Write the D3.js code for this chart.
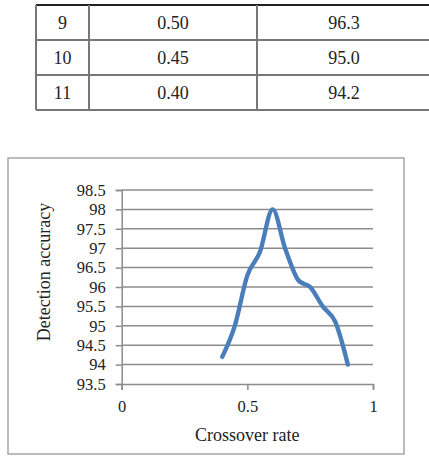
<!DOCTYPE html>
<html>
<head>
<meta charset="utf-8">
<script src="https://cdn.jsdelivr.net/npm/d3@7"></script>
<style>
  html, body { margin: 0; padding: 0; background: #fff; }
  svg { display: block; }
  svg text { font-family: "Liberation Serif", "Times New Roman", serif !important; fill: #222; }
</style>
</head>
<body>
<svg id="chart" width="429" height="457"></svg>
<script>
// ---- Data ----
const tableIds = ["9", "10", "11"];
const tableRates = ["0.50", "0.45", "0.40"];
const tableAccuracy = ["96.3", "95.0", "94.2"];

const crossoverRate = [0.40, 0.45, 0.50, 0.55, 0.60, 0.65, 0.70, 0.75, 0.80, 0.85, 0.90];
const detectionAccuracy = [94.2, 95.0, 96.3, 96.9, 98.0, 97.0, 96.2, 96.0, 95.5, 95.1, 94.0];

const yTicks = [93.5, 94, 94.5, 95, 95.5, 96, 96.5, 97, 97.5, 98, 98.5];
const xTicks = [0, 0.5, 1];

const FONT = '"Liberation Serif", "Times New Roman", serif';
const svg = d3.select("#chart");

// ---- Table ----
const colEdges = [36, 89, 257, 431];
const rowTop = 5, rowH = 35;
const tg = svg.append("g");
const rows = tableIds.map((id, i) => [id, tableRates[i], tableAccuracy[i]]);
const rowScale = d3.scaleBand().domain(d3.range(rows.length)).range([rowTop, rowTop + rowH * rows.length]);

d3.range(rows.length + 1).forEach(i => {
  tg.append("line")
    .attr("x1", colEdges[0]).attr("x2", colEdges[3])
    .attr("y1", rowTop + i * rowH).attr("y2", rowTop + i * rowH)
    .attr("stroke", i === 0 ? "#222" : "#777").attr("stroke-width", 2);
});
colEdges.forEach(x => {
  tg.append("line")
    .attr("x1", x).attr("x2", x)
    .attr("y1", rowTop).attr("y2", rowTop + rowH * rows.length)
    .attr("stroke", "#777").attr("stroke-width", 2);
});
rows.forEach((r, i) => {
  r.forEach((v, j) => {
    tg.append("text")
      .attr("x", (colEdges[j] + colEdges[j + 1]) / 2)
      .attr("y", rowScale(i) + rowH / 2)
      .attr("dy", "0.36em")
      .attr("text-anchor", "middle")
      .style("font-family", FONT)
      .style("font-size", "18px")
      .text(v);
  });
});

// ---- Chart frame ----
svg.append("rect")
  .attr("x", 8).attr("y", 158).attr("width", 396).attr("height", 296)
  .attr("fill", "none").attr("stroke", "#a6a6a6").attr("stroke-width", 1.5);

const x = d3.scaleLinear().domain([0, 1]).range([121.7, 373]);
const y = d3.scaleLinear().domain([93.5, 98.5]).range([384, 190]);

// gridlines
svg.append("g").selectAll("line").data(yTicks.slice(1)).join("line")
  .attr("x1", x(0)).attr("x2", x(1))
  .attr("y1", d => y(d)).attr("y2", d => y(d))
  .attr("stroke", "#8c8c8c").attr("stroke-width", 1.5);

// y axis
const yAxis = svg.append("g")
  .attr("transform", `translate(${x(0)},0)`)
  .call(d3.axisLeft(y).tickValues(yTicks).tickFormat(d3.format("")).tickSize(6).tickPadding(10));
yAxis.attr("font-family", null).attr("font-size", null);
yAxis.select(".domain").attr("stroke", "#8c8c8c").attr("stroke-width", 1.5);
yAxis.selectAll(".tick line").attr("stroke", "#8c8c8c").attr("stroke-width", 1.5);
yAxis.selectAll(".tick text")
  .style("font-family", FONT)
  .style("font-size", "16.5px").attr("fill", "#222");

// x axis
const xAxis = svg.append("g")
  .attr("transform", `translate(0,${y(93.5)})`)
  .call(d3.axisBottom(x).tickValues(xTicks).tickFormat(d3.format("")).tickSize(6).tickPadding(10));
xAxis.attr("font-family", null).attr("font-size", null);
xAxis.select(".domain").attr("stroke", "#8c8c8c").attr("stroke-width", 1.5);
xAxis.selectAll(".tick line").attr("stroke", "#8c8c8c").attr("stroke-width", 1.5);
xAxis.selectAll(".tick text")
  .style("font-family", FONT)
  .style("font-size", "16.5px").attr("fill", "#222");

// line
const line = d3.line()
  .x((d, i) => x(crossoverRate[i]))
  .y(d => y(d))
  .curve(d3.curveCardinal.tension(0));
svg.append("path")
  .datum(detectionAccuracy)
  .attr("d", line)
  .attr("fill", "none")
  .attr("stroke", "#4a7ebb")
  .attr("stroke-width", 4.4)
  .attr("stroke-linecap", "round")
  .attr("stroke-linejoin", "round");

// axis titles
svg.append("text")
  .attr("x", (x(0) + x(1)) / 2).attr("y", 441)
  .attr("text-anchor", "middle")
  .style("font-family", FONT).style("font-size", "18px")
  .text("Crossover rate");
svg.append("text")
  .attr("transform", "translate(50,272) rotate(-90)")
  .attr("text-anchor", "middle")
  .style("font-family", FONT).style("font-size", "18px")
  .text("Detection accuracy");
</script>
</body>
</html>
